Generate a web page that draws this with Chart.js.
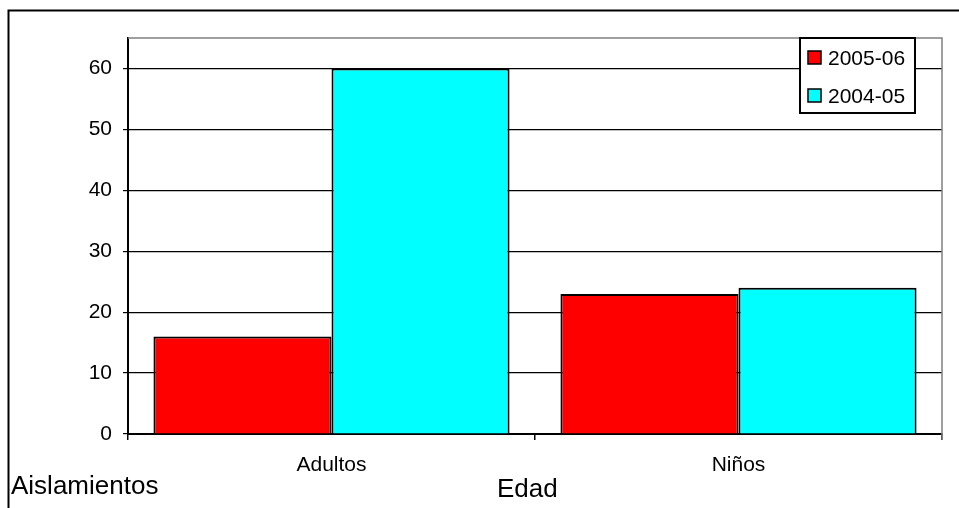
<!DOCTYPE html>
<html>
<head>
<meta charset="utf-8">
<script src="https://cdn.jsdelivr.net/npm/chart.js@4"></script>
<style>
  html, body { margin: 0; padding: 0; background: #fff; }
  canvas { display: block; }
</style>
</head>
<body>
<canvas id="myChart" width="959" height="508"></canvas>
<script>
/* DATA */
const categories = ['Adultos', 'Niños'];
const seriesNames = ['2005-06', '2004-05'];
const values0506 = [16, 23];
const values0405 = [60, 24];
const seriesColors = ['#FF0000', '#00FFFF'];
const yTicks = [0, 10, 20, 30, 40, 50, 60];
const yMax = 65;
const yTitle = 'Aislamientos';
const xTitle = 'Edad';

const FONT = '"Liberation Sans", Arial, sans-serif';

/* outer frame, plot border, axis titles and legend box */
const decorations = {
  id: 'decorations',
  beforeDraw(chart) {
    const c = chart.ctx;
    c.save();
    c.fillStyle = '#fff';
    c.fillRect(0, 0, chart.width, chart.height);
    c.strokeStyle = '#000';
    c.lineWidth = 2;
    c.beginPath();
    c.moveTo(8.5, chart.height);
    c.lineTo(8.5, 10.5);
    c.lineTo(chart.width, 10.5);
    c.stroke();
    c.restore();
  },
  afterDraw(chart) {
    const c = chart.ctx;
    const a = chart.chartArea;
    c.save();
    /* grey top and right border of plot area */
    c.strokeStyle = '#808080';
    c.lineWidth = 1.5;
    c.beginPath();
    c.moveTo(a.left, a.top);
    c.lineTo(a.right, a.top);
    c.lineTo(a.right, a.bottom + 6);
    c.stroke();

    /* titles */
    c.fillStyle = '#000';
    c.textBaseline = 'alphabetic';
    c.textAlign = 'left';
    c.font = '26px ' + FONT;
    c.fillText(yTitle, 11, 494);
    c.fillText(xTitle, 497, 497);

    /* legend */
    const lx = 800, ly = 38, lw = 115, lh = 75;
    c.fillStyle = '#fff';
    c.fillRect(lx, ly, lw, lh);
    c.strokeStyle = '#000';
    c.lineWidth = 2;
    c.strokeRect(lx, ly, lw, lh);
    c.font = '21px ' + FONT;
    chart.data.datasets.forEach(function(ds, i) {
      const cy = 57.5 + i * 38;
      c.fillStyle = ds.backgroundColor;
      c.fillRect(808, cy - 6.5, 13, 13);
      c.lineWidth = 1.5;
      c.strokeStyle = '#000';
      c.strokeRect(808, cy - 6.5, 13, 13);
      c.fillStyle = '#000';
      c.fillText(ds.label, 828, cy + 7);
    });
    c.restore();
  }
};

const ctx = document.getElementById('myChart').getContext('2d');

const chart = new Chart(ctx, {
  type: 'bar',
  data: {
    labels: categories,
    datasets: [{
      label: seriesNames[0],
      data: values0506,
      backgroundColor: seriesColors[0],
      borderColor: '#000',
      borderWidth: 2,
    },
    {
      label: seriesNames[1],
      data: values0405,
      backgroundColor: seriesColors[1],
      borderColor: '#000',
      borderWidth: 2,
    }],
  },
  options: {
    responsive: false,
    animation: false,
    devicePixelRatio: 1,
    categoryPercentage: 0.875,
    barPercentage: 1,
    layout: { padding: { top: 38, right: 17, left: 0, bottom: 0 } },
    plugins: {
      legend: { display: false },
      tooltip: { enabled: false },
    },
    scales: {
      x: {
        afterFit(scale) { scale.height = 74; },
        grid: {
          offset: true,
          drawOnChartArea: false,
          drawTicks: true,
          tickLength: 6,
          color: '#000',
          lineWidth: 1.5,
        },
        border: { color: '#000', width: 2 },
        ticks: {
          color: '#000',
          padding: 13,
          font: { family: FONT, size: 21 },
        },
      },
      y: {
        min: 0,
        max: yMax,
        afterFit(scale) { scale.width = 128; },
        afterBuildTicks(scale) {
          scale.ticks = yTicks.map(function(v) { return { value: v }; });
        },
        grid: {
          color: '#000',
          lineWidth: 1.2,
          drawTicks: true,
          tickLength: 5,
        },
        border: { color: '#000', width: 2 },
        ticks: {
          color: '#000',
          padding: 11,
          font: { family: FONT, size: 21 },
        },
      },
    },
  },
  plugins: [decorations],
});
</script>
</body>
</html>
